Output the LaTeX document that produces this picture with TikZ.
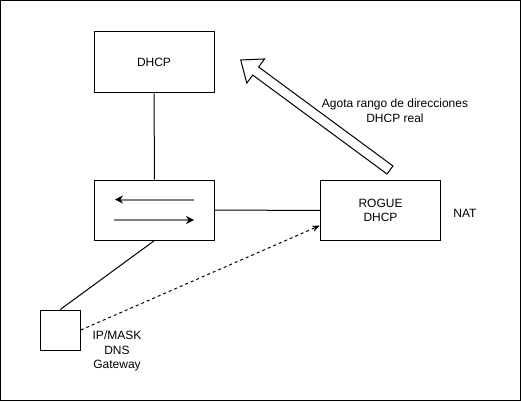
\documentclass[tikz,border=0pt]{standalone}
\usepackage{fontspec}
\setmainfont{Liberation Sans}
\usetikzlibrary{calc,positioning,arrows.meta}

\begin{document}
\begin{tikzpicture}[x=1pt,y=-1pt,
	my box/.style = {draw, line width=1pt,
                   minimum width=120pt,
                   minimum height=61pt,
                   align=center, font=\fontsize{12}{14.5}\selectfont},
	my text/.style = {align=center, font=\fontsize{12}{14.5}\selectfont},
	my link/.style = {line width=1pt}
                   ]
\useasboundingbox (0,0) rectangle (521,401);
\draw[line width=1pt] (0.5,0.5) rectangle (520.5,400.5);

\node[my box] (dhcp) at (154,62.5) {DHCP};
\node[my box, minimum height=60pt] (sw) at (154.5,210) {};
\node[my box, minimum height=60pt] (rogue) at (380.5,210.5) {ROGUE\\DHCP};
\node[draw, line width=1pt, minimum size=40pt, inner sep=0pt] (host) at (60.3,330) {};

\node[my text] (nat) at (465,213) {NAT};
\node[my text] (cfg) at (117,351) {IP/MASK\\DNS\\Gateway};
\node[my text] (msg) at (395,110.5) {Agota rango de direcciones\\DHCP real};

% links
\draw[my link] (dhcp.south) -- (sw.north);
\draw[my link] (sw.east) -- (rogue.west);
\draw[my link] (sw.south) -- (host.north);
\coordinate (rin) at ($(rogue.west)+(0,15)$);
\draw[my link, dashed, dash pattern=on 3pt off 3pt, -{Stealth[length=8pt,width=6pt]}] (host.east) -- (rin);

% switch arrows
\draw[gray, line width=2pt, -{Stealth[black,length=8pt,width=8pt]}] (194,199.5) -- (115,199.5);
\draw[gray, line width=2pt, -{Stealth[black,length=8pt,width=8pt]}] (114,220) -- (194,220);

% block arrow
\coordinate (tail) at (390,170);
\coordinate (tip) at (240.7,60);
\coordinate (base) at ($(tip)!18.6pt!(tail)$);
\draw[line width=1pt, line join=miter]
	($(tail)!5pt!90:(tip)$) -- ($(base)!5pt!90:(tip)$) --
	($(base)!15pt!90:(tip)$) -- (tip) --
	($(base)!15pt!-90:(tip)$) -- ($(base)!5pt!-90:(tip)$) --
	($(tail)!5pt!-90:(tip)$) -- cycle;
\end{tikzpicture}
\end{document}
